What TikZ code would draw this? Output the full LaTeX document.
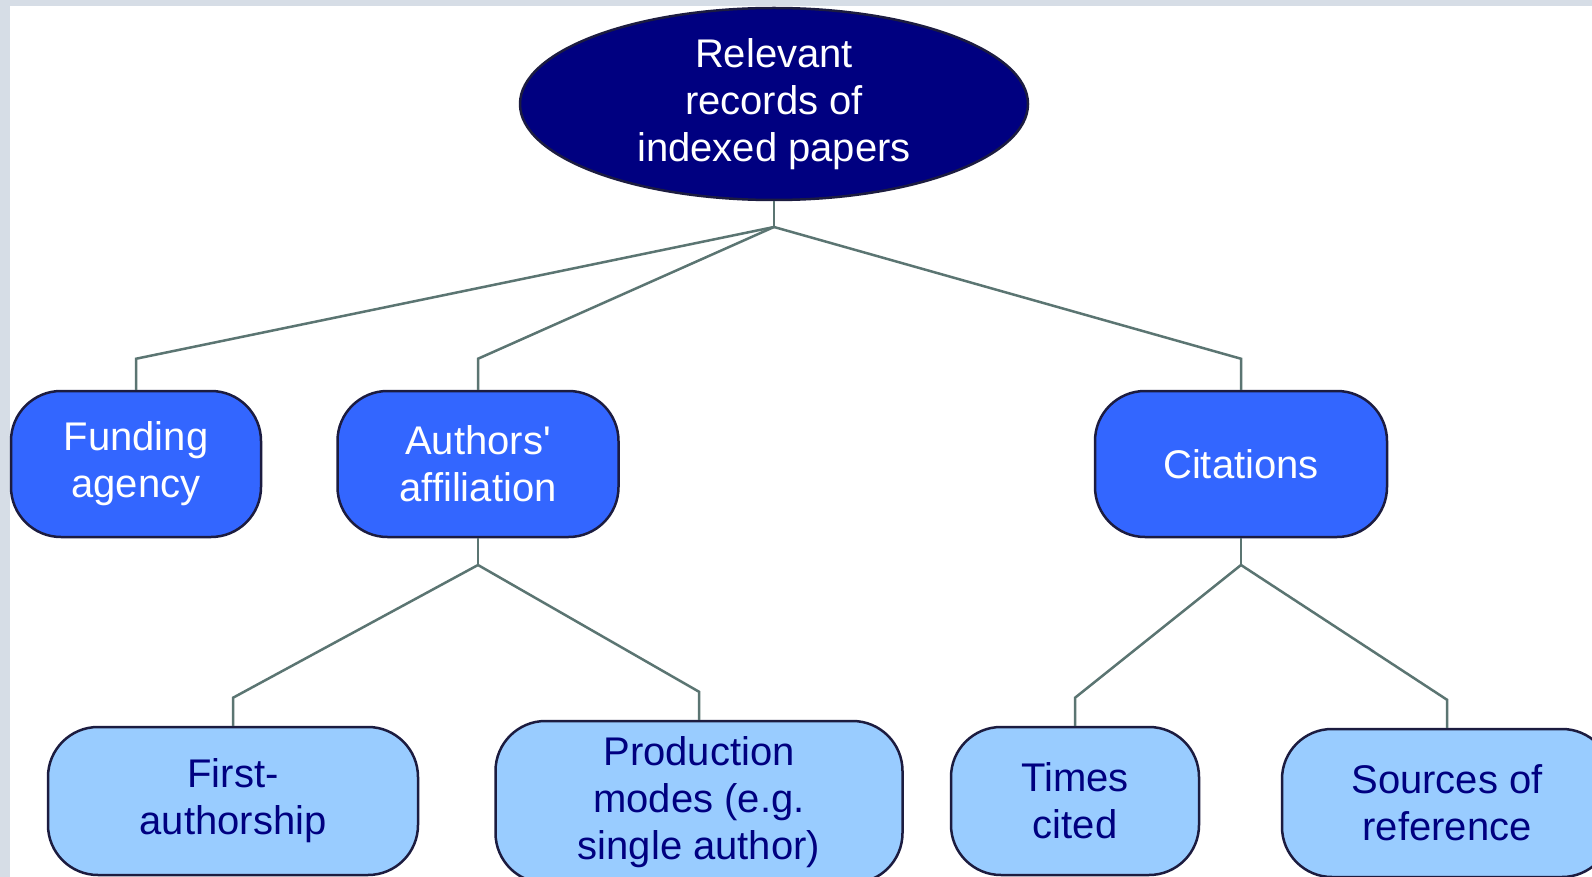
\documentclass[tikz,border=0pt]{standalone}
\usepackage{fontspec}
\setmainfont{Liberation Sans}
\usetikzlibrary{shapes.geometric}
\definecolor{framegray}{HTML}{D6DDE6}
\definecolor{rootblue}{HTML}{000080}
\definecolor{midblue}{HTML}{3366FF}
\definecolor{leafblue}{HTML}{99CCFF}
\definecolor{linkgray}{HTML}{5B7572}
\definecolor{edgedark}{HTML}{1C1C40}

\begin{document}
\begin{tikzpicture}[x=1pt, y=-1pt,
  every node/.style={align=center, font=\fontsize{40}{47}\selectfont, line width=2.5pt, draw=edgedark},
  root/.style={ellipse, fill=rootblue, text=white, minimum width=508pt, minimum height=192pt, inner sep=0pt},
  midbox/.style={rectangle, rounded corners=50pt, fill=midblue, text=white, minimum height=146pt},
  leafbox/.style={rectangle, rounded corners=50pt, fill=leafblue, text=rootblue, minimum height=148pt},
  link/.style={draw=linkgray, line width=2.5pt}]
  %tikz  records of indexed papers, tree
    \useasboundingbox (0,0) rectangle (1592,877);
    \clip (0,0) rectangle (1592,877);
    \fill[framegray] (0,0) rectangle (1592,877);
    \fill[white] (10,6) rectangle (1592,877);

    \node[root] (rec) at (774,104) {Relevant\\records of\\indexed papers};
    \node[midbox, minimum width=250pt] (fund) at (136,464) {Funding\\agency};
    \node[midbox, minimum width=281pt] (affil) at (478,464) {Authors\textquotesingle\\affiliation};
    \node[midbox, minimum width=292pt] (cit) at (1241,464) {Citations};
    \node[leafbox, minimum width=370pt] (first) at (233,801) {First-\\authorship};
    \node[leafbox, minimum width=407pt, minimum height=162pt] (prod) at (699,802) {Production\\modes (e.g.\\single author)};
    \node[leafbox, minimum width=248pt] (times) at (1075,801) {Times\\cited};
    \node[leafbox, minimum width=330pt] (src) at (1447,803) {Sources of\\reference};

    \coordinate (top) at (774,227);
    \coordinate (affilfork) at (478,565);
    \coordinate (citfork) at (1241,565);
    \draw[link] (rec.south) -- (top);
    \draw[link] (affil.south) -- (affilfork);
    \draw[link] (cit.south) -- (citfork);
    \foreach \kid in {fund, affil, cit}
      \draw[link] (top) -- ([yshift=31pt]\kid.north) -- (\kid.north);
    \foreach \kid in {first, prod}
      \draw[link] (affilfork) -- ([yshift=28pt]\kid.north) -- (\kid.north);
    \foreach \kid in {times, src}
      \draw[link] (citfork) -- ([yshift=28pt]\kid.north) -- (\kid.north);
  \end{tikzpicture}
\end{document}
